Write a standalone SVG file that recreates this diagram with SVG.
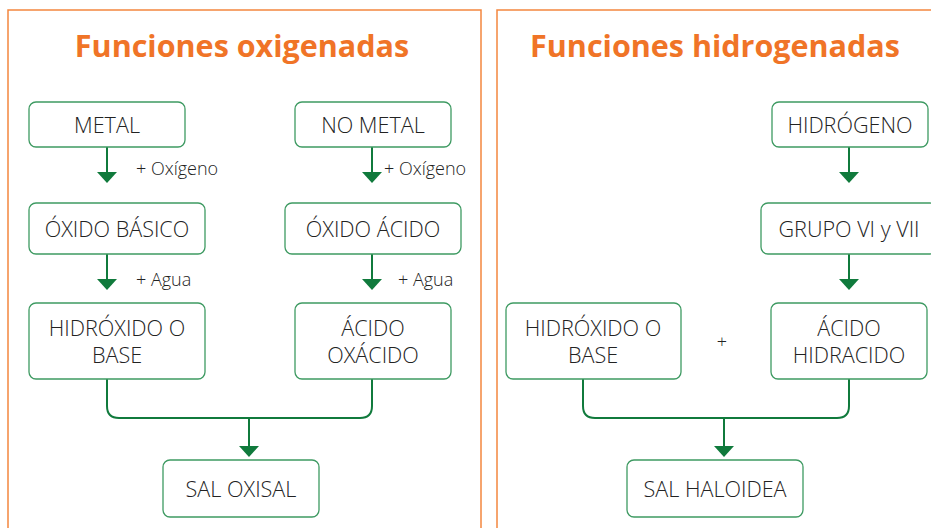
<svg xmlns="http://www.w3.org/2000/svg" width="931" height="528" viewBox="0 0 931 528">
<style>
.panel{fill:#fff;stroke:#F4873F;stroke-width:1.5}
.title{font-family:"Open Sans","Liberation Sans",sans-serif;font-weight:700;font-size:30.5px;fill:#F07427;text-anchor:middle}
.box{fill:#fff;stroke:#3E9A62;stroke-width:1.3}
.t{font-family:"Open Sans","Liberation Sans",sans-serif;font-weight:300;font-size:21.6px;fill:#222;text-anchor:middle}
.lbl{font-family:"Open Sans","Liberation Sans",sans-serif;font-weight:300;font-size:18px;fill:#222}
.ln{fill:none;stroke:#107A3C;stroke-width:2}
.ah{fill:#107A3C}
</style>
<rect width="931" height="528" fill="#fff"/>
<g id="panels">
<path class="panel" d="M8,540 V10 H481 V540"/>
<path class="panel" d="M497,540 V10 H940"/>
</g>
<g id="titles">
<text class="title" x="242" y="57">Funciones oxigenadas</text>
<text class="title" x="715" y="57">Funciones hidrogenadas</text>
</g>
<g id="connectors">
<path class="ln" d="M107,147 V174"/><polygon class="ah" points="97,172 117,172 107,183"/>
<path class="ln" d="M372,147 V174"/><polygon class="ah" points="362,172 382,172 372,183"/>
<path class="ln" d="M107,254 V281"/><polygon class="ah" points="97,279 117,279 107,290"/>
<path class="ln" d="M372,254 V281"/><polygon class="ah" points="362,279 382,279 372,290"/>
<path class="ln" d="M107,379 V406 Q107,418 119,418 H360 Q372,418 372,406 V379"/>
<path class="ln" d="M249,418 V448"/><polygon class="ah" points="239,446 259,446 249,457"/>
<path class="ln" d="M849,147 V174"/><polygon class="ah" points="839,172 859,172 849,183"/>
<path class="ln" d="M849,254 V281"/><polygon class="ah" points="839,279 859,279 849,290"/>
<path class="ln" d="M583,379 V406 Q583,418 595,418 H837 Q849,418 849,406 V379"/>
<path class="ln" d="M724,418 V448"/><polygon class="ah" points="714,446 734,446 724,457"/>
</g>
<g id="labels">
<text class="lbl" x="136" y="175">+ Oxígeno</text>
<text class="lbl" x="384" y="175">+ Oxígeno</text>
<text class="lbl" x="136" y="286">+ Agua</text>
<text class="lbl" x="398" y="286">+ Agua</text>
<text class="lbl" x="722" y="348" text-anchor="middle">+</text>
</g>
<g id="metal"><rect class="box" x="29" y="102" width="156" height="45" rx="7"/><text class="t" x="107" y="133">METAL</text></g>
<g id="nometal"><rect class="box" x="295" y="102" width="156" height="45" rx="7"/><text class="t" x="373" y="133">NO METAL</text></g>
<g id="oxidobasico"><rect class="box" x="29" y="203" width="176" height="51" rx="7"/><text class="t" x="117" y="237">ÓXIDO BÁSICO</text></g>
<g id="oxidoacido"><rect class="box" x="285" y="203" width="176" height="51" rx="7"/><text class="t" x="373" y="237">ÓXIDO ÁCIDO</text></g>
<g id="hidroxido1"><rect class="box" x="29" y="303" width="176" height="76" rx="7"/><text class="t" x="117" y="336">HIDRÓXIDO O</text><text class="t" x="117" y="363">BASE</text></g>
<g id="acidooxacido"><rect class="box" x="295" y="303" width="156" height="76" rx="7"/><text class="t" x="373" y="336">ÁCIDO</text><text class="t" x="373" y="363">OXÁCIDO</text></g>
<g id="saloxisal"><rect class="box" x="163" y="460" width="156" height="57" rx="7"/><text class="t" x="241" y="497">SAL OXISAL</text></g>
<g id="hidrogeno"><rect class="box" x="772" y="102" width="156" height="45" rx="7"/><text class="t" x="850" y="133">HIDRÓGENO</text></g>
<g id="grupo"><rect class="box" x="761" y="203" width="176" height="51" rx="7"/><text class="t" x="849" y="237">GRUPO VI y VII</text></g>
<g id="hidroxido2"><rect class="box" x="506" y="303" width="175" height="76" rx="7"/><text class="t" x="593" y="336">HIDRÓXIDO O</text><text class="t" x="593" y="363">BASE</text></g>
<g id="acidohidracido"><rect class="box" x="771" y="303" width="156" height="76" rx="7"/><text class="t" x="849" y="336">ÁCIDO</text><text class="t" x="849" y="363">HIDRACIDO</text></g>
<g id="salhaloidea"><rect class="box" x="627" y="460" width="176" height="57" rx="7"/><text class="t" x="715" y="497">SAL HALOIDEA</text></g>
</svg>
